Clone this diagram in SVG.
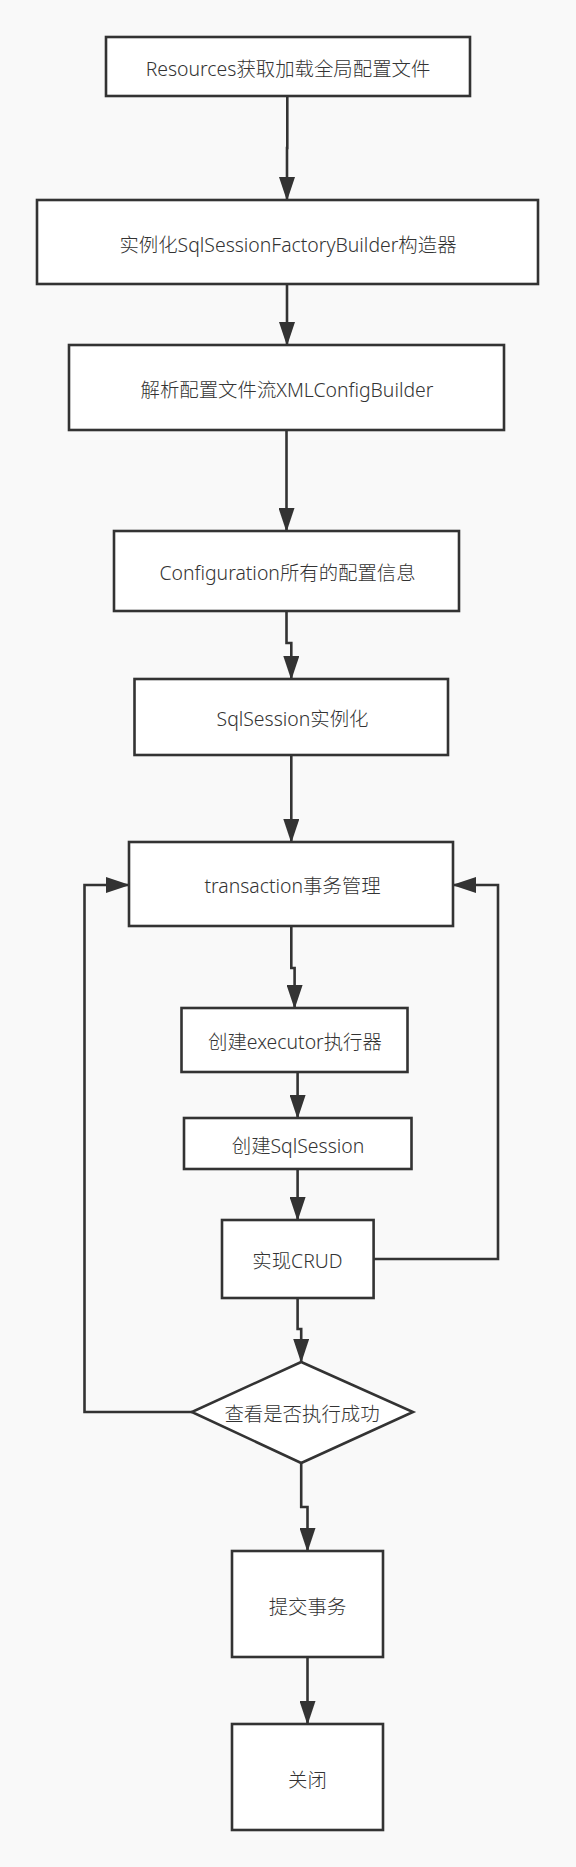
<svg xmlns="http://www.w3.org/2000/svg" width="576" height="1867" viewBox="0 0 576 1867">
<defs>
<style>
.n{fill:#ffffff;stroke:#333333;stroke-width:2.6}
.t{font-family:"Noto Sans","Noto Sans CJK SC",sans-serif;font-size:19.4px;font-weight:300;fill:#333333;text-anchor:middle;dominant-baseline:central}
.c{fill:none;stroke:#333333;stroke-width:2.6;marker-end:url(#ah)}
</style>
<marker id="ah" markerUnits="userSpaceOnUse" markerWidth="24" markerHeight="16" viewBox="0 0 24 16" refX="23" refY="8" orient="auto">
<path d="M0,0 L24,8 L0,16 Z" fill="#333333"/>
</marker>
</defs>
<rect width="576" height="1867" fill="#f9f9f9"/>
<g id="connectors">
<path class="c" d="M287.3,96 V148 H287 V200"/>
<path class="c" d="M287,284 V345"/>
<path class="c" d="M286.5,430 V531"/>
<path class="c" d="M286.5,611 V643 H291.3 V679"/>
<path class="c" d="M291.3,755 V842"/>
<path class="c" d="M291.3,926 V968 H294.6 V1008"/>
<path class="c" d="M297.6,1072 V1118"/>
<path class="c" d="M297.6,1169 V1220"/>
<path class="c" d="M297.6,1298 V1329 H301.2 V1362"/>
<path class="c" d="M301.2,1463 V1507 H307.5 V1551"/>
<path class="c" d="M307.5,1657 V1724"/>
<path class="c" d="M192,1412 H84.5 V885 H129"/>
<path class="c" d="M373.6,1259 H498 V885 H453"/>
</g>
<g id="n1"><rect class="n" x="106" y="37" width="364" height="59"/><text class="t" x="288" y="68">Resources获取加载全局配置文件</text></g>
<g id="n2"><rect class="n" x="37" y="200" width="501" height="84"/><text class="t" x="288" y="244">实例化SqlSessionFactoryBuilder构造器</text></g>
<g id="n3"><rect class="n" x="69" y="345" width="435" height="85"/><text class="t" x="287" y="389">解析配置文件流XMLConfigBuilder</text></g>
<g id="n4"><rect class="n" x="114" y="531" width="345" height="80"/><text class="t" x="287.5" y="572">Configuration所有的配置信息</text></g>
<g id="n5"><rect class="n" x="134.5" y="679" width="313.5" height="76"/><text class="t" x="292.5" y="718">SqlSession实例化</text></g>
<g id="n6"><rect class="n" x="129" y="842" width="324" height="84"/><text class="t" x="292.5" y="885">transaction事务管理</text></g>
<g id="n7"><rect class="n" x="181.5" y="1008" width="226" height="64"/><text class="t" x="295" y="1041">创建executor执行器</text></g>
<g id="n8"><rect class="n" x="184" y="1118" width="227.5" height="51"/><text class="t" x="298" y="1145">创建SqlSession</text></g>
<g id="n9"><rect class="n" x="222" y="1220" width="151.6" height="78"/><text class="t" x="297.5" y="1260">实现CRUD</text></g>
<g id="n10"><polygon class="n" points="301.2,1362 413,1412 301.2,1463 191.8,1412"/><text class="t" x="302" y="1413">查看是否执行成功</text></g>
<g id="n11"><rect class="n" x="232" y="1551" width="151" height="106"/><text class="t" x="307.5" y="1606">提交事务</text></g>
<g id="n12"><rect class="n" x="232" y="1724" width="151" height="106"/><text class="t" x="307.5" y="1779">关闭</text></g>
</svg>
